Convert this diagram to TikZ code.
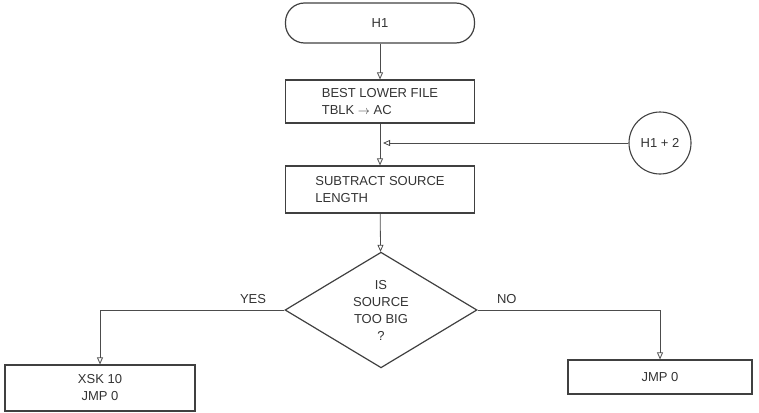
\documentclass[tikz,border=0pt]{standalone}
\usepackage{fontspec}
\setmainfont{Liberation Sans}
\usetikzlibrary{shapes.geometric, arrows.meta}

\begin{document}
\begin{tikzpicture}[
    x=1pt, y=-1pt,
    every node/.style={font=\fontsize{13}{17}\selectfont, text=black!80},
    block/.style={rectangle, draw=black!75, line width=1.2pt, minimum width=189pt, inner sep=0pt},
    terminal/.style={block, rounded corners=19pt, minimum height=40pt},
    decision/.style={diamond, draw=black!75, line width=1.2pt, minimum width=192pt, minimum height=110pt, inner sep=0pt, align=center},
    connector/.style={circle, draw=black!75, line width=1.1pt, minimum size=62pt, inner sep=0pt},
    line/.style={draw=black!70, line width=0.8pt},
    flow/.style={line, -{Triangle[open, length=7pt, width=6pt]}}
  ]
  \useasboundingbox (0,0) rectangle (759,412);

  % Main column
  \node[terminal] (start) at (380,23) {H1};
  \node[block, minimum height=43pt, align=left] (lower) at (380,101.5) {BEST LOWER FILE\\TBLK $\rightarrow$ AC};
  \node[block, minimum height=47pt, align=left] (subtr) at (380,189.5) {SUBTRACT SOURCE\\LENGTH};
  \node[decision] (big) at (381,310) {IS\\SOURCE\\TOO BIG\\?};

  % Re-entry from H1 + 2
  \node[connector] (ret) at (660,143) {H1 + 2};
  \coordinate (join) at (380,143);

  % Exits
  \node[block, minimum width=190pt, minimum height=46pt, align=center] (xsk) at (100,388) {XSK 10\\JMP 0};
  \node[block, minimum width=184pt, minimum height=34pt] (jmp) at (660,377) {JMP 0};

  % Flow lines
  \draw[flow] (start) -- (lower);
  \draw[line] (lower) -- (join);
  \draw[flow] (join) -- (subtr);
  \draw[flow] (ret) -- ([xshift=3pt]join);
  \draw[flow] (subtr) -- (big);
  \draw[flow] (big.west) -| node[pos=0.085, above=3pt] {YES} (xsk);
  \draw[flow] (big.east) -| node[pos=0.08, above=3pt] {NO} (jmp);
\end{tikzpicture}
\end{document}
